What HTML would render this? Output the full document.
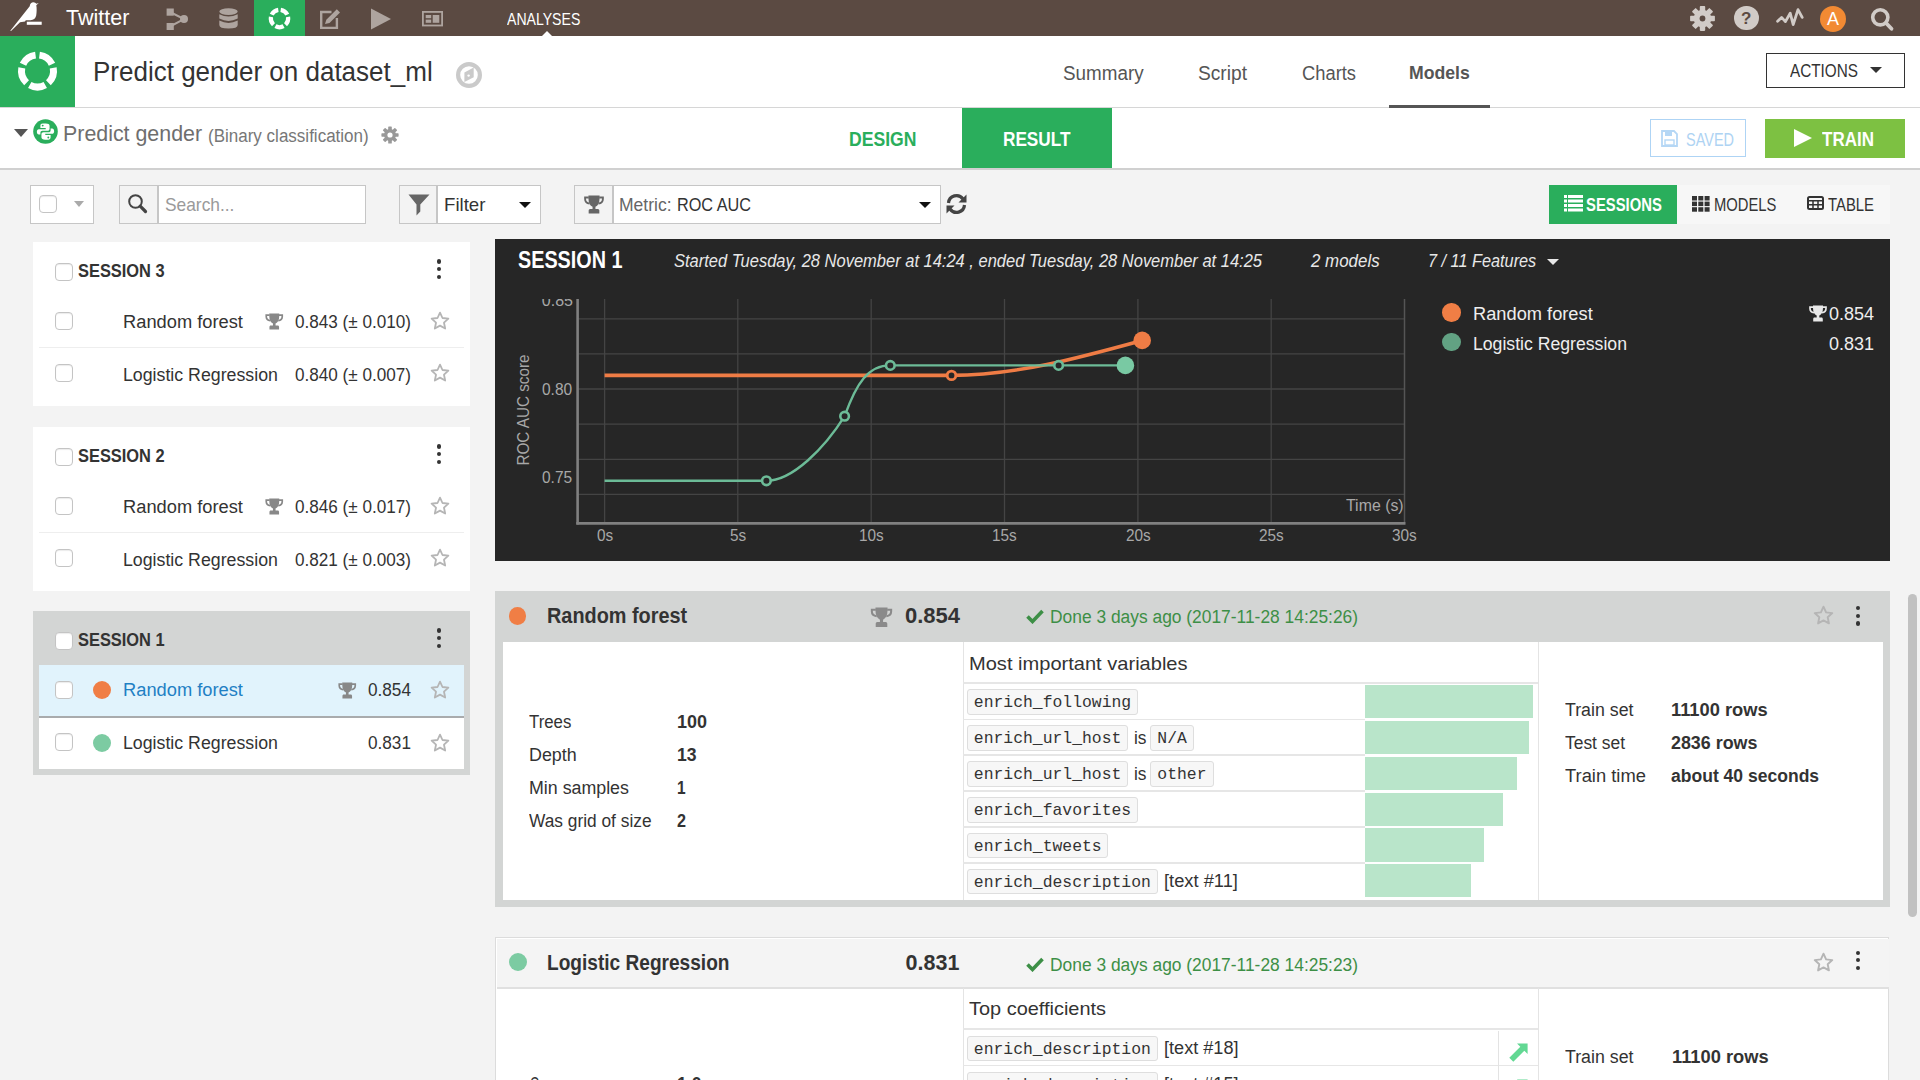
<!DOCTYPE html>
<html><head><meta charset="utf-8"><title>Predict gender</title><style>*{margin:0;padding:0;box-sizing:content-box}
html,body{width:1920px;height:1080px;overflow:hidden;background:#f3f3f3}
body{position:relative;font-family:"Liberation Sans",sans-serif}
.t{position:absolute;line-height:1;white-space:nowrap;transform-origin:0 50%}
</style></head><body>
<div style="position:absolute;left:0px;top:0px;width:1920px;height:36px;background:#5b4a42"></div>
<div style="position:absolute;left:254px;top:0px;width:51px;height:36px;background:#2aae5c"></div>
<svg style="position:absolute;left:0;top:0" width="50" height="36" viewBox="0 0 50 36">
<path d="M10.3 30.7 L29.7 6.3 C30 3.5 31.5 2.2 33.3 2.2 C34.8 2.2 35.8 3 36.3 3.8 L38.7 3.0 L36.3 5.2 C36.8 8 36.8 12 36.2 15.5 C35.5 18.5 33.5 20 30.5 20.2 L25.8 20.2 L25 21.4 L20 22.2 L11 30.9 Z" fill="#fff"/>
<rect x="26.8" y="21.7" width="14.9" height="3.1" fill="#fff"/></svg>
<div class="t" style="left:66.0px;top:7.6px;font-size:21.5px;color:#fff;">Twitter</div>
<svg style="position:absolute;left:166px;top:7.5px" width="24" height="23" viewBox="0 0 24 23">
<rect x="0.6" y="0.5" width="7.2" height="7.2" fill="#aea49f"/><rect x="0.6" y="15" width="7.2" height="7" fill="#aea49f"/>
<circle cx="18" cy="11.1" r="4" fill="#aea49f"/><path d="M4 4 L18 11.1 L4 18.5" stroke="#aea49f" stroke-width="2" fill="none"/></svg>
<svg style="position:absolute;left:218.5px;top:8px" width="19" height="21" viewBox="0 0 19 21">
<ellipse cx="9.5" cy="3.6" rx="9.2" ry="3.4" fill="#aea49f"/>
<path d="M0.3 6.2 Q9.5 11 18.7 6.2 V10.6 Q9.5 15.4 0.3 10.6Z" fill="#aea49f"/>
<path d="M0.3 12.6 Q9.5 17.4 18.7 12.6 V17 Q18.7 20.6 9.5 20.6 Q0.3 20.6 0.3 17Z" fill="#aea49f"/></svg>
<svg style="position:absolute;left:254px;top:0" width="51" height="36" viewBox="254 0 51 36"><path d="M281.00 7.81 A10.8 10.8 0 0 1 289.21 13.77 L285.43 15.61 A6.6 6.6 0 0 0 280.42 11.96Z" fill="#fff"/><path d="M290.14 16.62 A10.8 10.8 0 0 1 287.00 26.27 L284.08 23.25 A6.6 6.6 0 0 0 286.00 17.35Z" fill="#fff"/><path d="M284.57 28.04 A10.8 10.8 0 0 1 274.43 28.04 L276.40 24.33 A6.6 6.6 0 0 0 282.60 24.33Z" fill="#fff"/><path d="M272.00 26.27 A10.8 10.8 0 0 1 268.86 16.62 L273.00 17.35 A6.6 6.6 0 0 0 274.92 23.25Z" fill="#fff"/><path d="M269.79 13.77 A10.8 10.8 0 0 1 278.00 7.81 L278.58 11.96 A6.6 6.6 0 0 0 273.57 15.61Z" fill="#fff"/></svg>
<svg style="position:absolute;left:319px;top:8px" width="23" height="22" viewBox="0 0 23 22">
<path d="M12.5 4 H2.2 V19.9 H17.9 V10" stroke="#aea49f" stroke-width="2.4" fill="none"/>
<path d="M6 16 L7.3 11.8 L17.8 1.3 L21 4.5 L10.5 15 Z" fill="#aea49f"/></svg>
<svg style="position:absolute;left:370px;top:8px" width="22" height="22" viewBox="0 0 22 22">
<path d="M1 0.5 L21 11 L1 21.5Z" fill="#aea49f"/></svg>
<svg style="position:absolute;left:422px;top:11px" width="21" height="16" viewBox="0 0 21 16">
<rect x="0.9" y="0.9" width="19.2" height="13.6" stroke="#aea49f" stroke-width="1.8" fill="none"/>
<rect x="3.7" y="4" width="5.5" height="3.2" fill="#aea49f"/><rect x="3.7" y="8.6" width="5.5" height="3.2" fill="#aea49f"/><rect x="10.7" y="4" width="6.6" height="7.8" fill="#aea49f"/></svg>
<div class="t" style="left:507.0px;top:10.9px;font-size:17px;color:#fff;transform:scaleX(0.828);">ANALYSES</div>
<div style="position:absolute;left:542px;top:31px;width:0;height:0;border-left:5px solid transparent;border-right:5px solid transparent;border-bottom:5px solid #fff"></div>
<svg style="position:absolute;left:1690px;top:5.5px" width="25" height="25" viewBox="-12.5 -12.5 25 25">
<g fill="#d1cbc7"><rect x="-2.7" y="-12.4" width="5.4" height="6" rx="0.8" transform="rotate(0)"/><rect x="-2.7" y="-12.4" width="5.4" height="6" rx="0.8" transform="rotate(45)"/><rect x="-2.7" y="-12.4" width="5.4" height="6" rx="0.8" transform="rotate(90)"/><rect x="-2.7" y="-12.4" width="5.4" height="6" rx="0.8" transform="rotate(135)"/><rect x="-2.7" y="-12.4" width="5.4" height="6" rx="0.8" transform="rotate(180)"/><rect x="-2.7" y="-12.4" width="5.4" height="6" rx="0.8" transform="rotate(225)"/><rect x="-2.7" y="-12.4" width="5.4" height="6" rx="0.8" transform="rotate(270)"/><rect x="-2.7" y="-12.4" width="5.4" height="6" rx="0.8" transform="rotate(315)"/>
<circle r="8.8"/></g><circle r="2.9" fill="#5b4a42"/></svg>
<div style="position:absolute;left:1734px;top:5.7px;width:24.5px;height:24.5px;border-radius:50%;background:#d1cbc7;color:#5b4a42;font:bold 17px/25px 'Liberation Sans';text-align:center">?</div>
<svg style="position:absolute;left:1770px;top:0px" width="40" height="36" viewBox="1770 0 40 36">
<path d="M1777.6 21.3 L1781.6 17.4 L1785.4 21.6 L1790.2 13.2 L1793.2 24.6 L1798 9.6 L1802.2 17.4" stroke="#d1cbc7" stroke-width="2.8" fill="none" stroke-linejoin="round" stroke-linecap="round"/></svg>
<div style="position:absolute;left:1820px;top:5.5px;width:26px;height:26px;border-radius:50%;background:#f28a33;color:#fff;font:18px/27px 'Liberation Sans';text-align:center">A</div>
<svg style="position:absolute;left:1866px;top:3px" width="30" height="30" viewBox="1866 3 30 30">
<circle cx="1880.3" cy="17.3" r="7.6" stroke="#d1cbc7" stroke-width="3.6" fill="none"/><path d="M1886 23 L1891.5 28.8" stroke="#d1cbc7" stroke-width="3.8" stroke-linecap="round"/></svg>
<div style="position:absolute;left:0px;top:36px;width:1920px;height:71px;background:#fff"></div>
<div style="position:absolute;left:0px;top:36px;width:75px;height:71px;background:#2aae5c"></div>
<svg style="position:absolute;left:0;top:36px" width="75" height="71" viewBox="0 36 75 71"><path d="M39.88 51.65 A19.5 19.5 0 0 1 55.17 62.76 L48.83 65.72 A12.5 12.5 0 0 0 39.02 58.59Z" fill="#fff"/><path d="M56.64 67.28 A19.5 19.5 0 0 1 50.80 85.26 L46.02 80.14 A12.5 12.5 0 0 0 49.77 68.61Z" fill="#fff"/><path d="M46.95 88.06 A19.5 19.5 0 0 1 28.05 88.06 L31.44 81.93 A12.5 12.5 0 0 0 43.56 81.93Z" fill="#fff"/><path d="M24.20 85.26 A19.5 19.5 0 0 1 18.36 67.28 L25.23 68.61 A12.5 12.5 0 0 0 28.98 80.14Z" fill="#fff"/><path d="M19.83 62.76 A19.5 19.5 0 0 1 35.12 51.65 L35.98 58.59 A12.5 12.5 0 0 0 26.17 65.72Z" fill="#fff"/></svg>
<div style="position:absolute;left:0px;top:107px;width:1920px;height:1px;background:#d6d6d6"></div>
<div class="t" style="left:93.0px;top:58.8px;font-size:27px;color:#333;transform:scaleX(0.963);">Predict gender on dataset_ml</div>
<svg style="position:absolute;left:455px;top:61px" width="28" height="28" viewBox="0 0 28 28">
<circle cx="14" cy="14" r="10.9" stroke="#cacaca" stroke-width="4.2" fill="none"/><path d="M9.4 11.4 L18.7 6.6 L18.7 16.2 L9.4 21Z" fill="#cacaca"/><circle cx="13.6" cy="14.6" r="1.2" fill="#fff"/></svg>
<div class="t" style="left:1062.5px;top:63.5px;font-size:19.5px;color:#555;transform:scaleX(0.966);">Summary</div>
<div class="t" style="left:1198.3px;top:63.5px;font-size:19.5px;color:#555;transform:scaleX(0.983);">Script</div>
<div class="t" style="left:1301.7px;top:63.5px;font-size:19.5px;color:#555;transform:scaleX(0.940);">Charts</div>
<div class="t" style="left:1409.3px;top:64.3px;font-size:18.5px;color:#555;font-weight:bold;transform:scaleX(0.953);">Models</div>
<div style="position:absolute;left:1389px;top:105px;width:101px;height:3px;background:#555"></div>
<div style="position:absolute;left:1766px;top:53px;width:137px;height:33px;border:1px solid #333;background:#fff"></div>
<div class="t" style="left:1790.0px;top:62.5px;font-size:17.5px;color:#333;transform:scaleX(0.874);">ACTIONS</div>
<div style="position:absolute;left:1870px;top:67px;width:0;height:0;border-left:6px solid transparent;border-right:6px solid transparent;border-top:6px solid #333"></div>
<div style="position:absolute;left:0px;top:108px;width:1920px;height:60px;background:#fff"></div>
<div style="position:absolute;left:0px;top:168px;width:1920px;height:2px;background:#d0d0d0"></div>
<div style="position:absolute;left:14px;top:129px;width:0;height:0;border-left:7px solid transparent;border-right:7px solid transparent;border-top:8px solid #555"></div>
<svg style="position:absolute;left:33px;top:119px" width="25" height="25" viewBox="0 0 24 24">
<circle cx="12" cy="12" r="11.8" fill="#2aae5c"/>
<g><path d="M12.3 4.2 H9.4 C7.9 4.2 7.1 5 7.1 6.4 V8.6 H12.2 V9.8 H5.6 C4.4 9.8 3.7 10.9 3.7 12.3 C3.7 13.8 4.4 14.9 5.6 14.9 H7.1 V13.3 C7.1 12 7.9 11.3 9.1 11.3 H13.9 C15.1 11.3 15.9 10.5 15.9 9.3 V6.4 C15.9 5 14.6 4.2 12.3 4.2Z" fill="#fff"/>
<circle cx="9.3" cy="6.3" r="0.9" fill="#2aae5c"/></g>
<g transform="rotate(180 12 12)"><path d="M12.3 4.2 H9.4 C7.9 4.2 7.1 5 7.1 6.4 V8.6 H12.2 V9.8 H5.6 C4.4 9.8 3.7 10.9 3.7 12.3 C3.7 13.8 4.4 14.9 5.6 14.9 H7.1 V13.3 C7.1 12 7.9 11.3 9.1 11.3 H13.9 C15.1 11.3 15.9 10.5 15.9 9.3 V6.4 C15.9 5 14.6 4.2 12.3 4.2Z" fill="#fff"/>
<circle cx="9.3" cy="6.3" r="0.9" fill="#2aae5c"/></g>
</svg>
<div class="t" style="left:62.5px;top:122.7px;font-size:22.5px;color:#6e6e6e;transform:scaleX(0.950);">Predict gender</div>
<div class="t" style="left:208.3px;top:126.5px;font-size:18px;color:#777;transform:scaleX(0.945);">(Binary classification)</div>
<svg style="position:absolute;left:381px;top:126px" width="18" height="18" viewBox="-9 -9 18 18">
<g fill="#999"><rect x="-1.8" y="-8.6" width="3.6" height="4" rx=".7" transform="rotate(0)"/><rect x="-1.8" y="-8.6" width="3.6" height="4" rx=".7" transform="rotate(45)"/><rect x="-1.8" y="-8.6" width="3.6" height="4" rx=".7" transform="rotate(90)"/><rect x="-1.8" y="-8.6" width="3.6" height="4" rx=".7" transform="rotate(135)"/><rect x="-1.8" y="-8.6" width="3.6" height="4" rx=".7" transform="rotate(180)"/><rect x="-1.8" y="-8.6" width="3.6" height="4" rx=".7" transform="rotate(225)"/><rect x="-1.8" y="-8.6" width="3.6" height="4" rx=".7" transform="rotate(270)"/><rect x="-1.8" y="-8.6" width="3.6" height="4" rx=".7" transform="rotate(315)"/>
<circle r="6"/></g><circle r="2.6" fill="#fff"/></svg>
<div class="t" style="left:849.3px;top:129.5px;font-size:19.5px;color:#2aae5c;font-weight:bold;transform:scaleX(0.902);">DESIGN</div>
<div style="position:absolute;left:962px;top:108px;width:150px;height:60px;background:#2aae5c"></div>
<div class="t" style="left:1003.3px;top:129.5px;font-size:19.5px;color:#fff;font-weight:bold;transform:scaleX(0.881);">RESULT</div>
<div style="position:absolute;left:1650px;top:119px;width:94px;height:36px;border:1px solid #aed4f5;background:#fff"></div>
<svg style="position:absolute;left:1661px;top:130px" width="17" height="17" viewBox="0 0 17 17">
<path d="M1 1 H13 L16 4 V16 H1Z" stroke="#b5d7f5" stroke-width="1.8" fill="none"/><rect x="4" y="1.5" width="7" height="4.5" fill="#b5d7f5"/><rect x="4" y="10" width="9" height="5" stroke="#b5d7f5" stroke-width="1.4" fill="none"/></svg>
<div class="t" style="left:1685.7px;top:130.8px;font-size:18px;color:#aed3f3;transform:scaleX(0.804);">SAVED</div>
<div style="position:absolute;left:1765px;top:119px;width:140px;height:39px;background:#7dc142"></div>
<div style="position:absolute;left:1794px;top:129px;width:0;height:0;border-top:9.5px solid transparent;border-bottom:9.5px solid transparent;border-left:18px solid #fff"></div>
<div class="t" style="left:1821.7px;top:129.1px;font-size:20px;color:#fff;font-weight:bold;transform:scaleX(0.851);">TRAIN</div>
<div style="position:absolute;left:0px;top:170px;width:1920px;height:910px;background:#f3f3f3"></div>
<div style="position:absolute;left:30px;top:185px;width:62px;height:37px;border:1px solid #c6c6c6;background:#fff"></div>
<div style="position:absolute;left:39px;top:195px;width:16px;height:16px;border:1px solid #c4c4c4;border-radius:4px;background:#fff;box-shadow:inset 0 1px 1px rgba(0,0,0,.08)"></div>
<div style="position:absolute;left:73.5px;top:201px;width:0;height:0;border-left:5.5px solid transparent;border-right:5.5px solid transparent;border-top:6px solid #aaa"></div>
<div style="position:absolute;left:119px;top:185px;width:245px;height:37px;border:1px solid #c6c6c6;background:#fff"></div>
<div style="position:absolute;left:120px;top:186px;width:37px;height:37px;background:#f3f3f3"></div>
<div style="position:absolute;left:157px;top:186px;width:1.5px;height:37px;background:#c6c6c6"></div>
<svg style="position:absolute;left:127px;top:193px" width="22" height="22" viewBox="0 0 22 22">
<circle cx="8.5" cy="8.5" r="6.3" stroke="#444" stroke-width="2" fill="none"/><path d="M13.2 13.2 L18.5 18.5" stroke="#444" stroke-width="3.2" stroke-linecap="round"/></svg>
<div class="t" style="left:164.5px;top:194.5px;font-size:19px;color:#9a9a9a;transform:scaleX(0.913);">Search...</div>
<div style="position:absolute;left:399px;top:185px;width:140px;height:37px;border:1px solid #c6c6c6;background:#fff"></div>
<div style="position:absolute;left:400px;top:186px;width:36px;height:37px;background:#f3f3f3"></div>
<div style="position:absolute;left:436px;top:186px;width:1.5px;height:37px;background:#c6c6c6"></div>
<svg style="position:absolute;left:407.5px;top:193.5px" width="22" height="22" viewBox="0 0 22 22">
<path d="M0.5 0.5 H21.5 L12.3 10.5 V17.5 L8.5 21.5 V10.5Z" fill="#666"/></svg>
<div class="t" style="left:444.3px;top:194.9px;font-size:19px;color:#333;transform:scaleX(0.981);">Filter</div>
<div style="position:absolute;left:519px;top:202px;width:0;height:0;border-left:6.0px solid transparent;border-right:6.0px solid transparent;border-top:6px solid #111"></div>
<div style="position:absolute;left:574px;top:185px;width:365px;height:37px;border:1px solid #c6c6c6;background:#fff"></div>
<div style="position:absolute;left:575px;top:186px;width:37px;height:37px;background:#f3f3f3"></div>
<div style="position:absolute;left:612px;top:186px;width:1.5px;height:37px;background:#c6c6c6"></div>
<svg style="position:absolute;left:583.5px;top:195px" width="20" height="19" viewBox="0 0 18 17">
<path d="M4 0.5 H14 V3 C14 7 12.5 9.5 10.3 10.5 V12.5 H12.5 C13.3 12.5 13.8 13.2 13.8 14 V16.5 H4.2 V14 C4.2 13.2 4.7 12.5 5.5 12.5 H7.7 V10.5 C5.5 9.5 4 7 4 3Z" fill="#666"/>
<path d="M4.3 2.2 H1 V3.5 C1 5.5 2.5 7.3 5 7.6 M13.7 2.2 H17 V3.5 C17 5.5 15.5 7.3 13 7.6" stroke="#666" stroke-width="1.7" fill="none"/></svg>
<div class="t" style="left:619.3px;top:194.6px;font-size:19px;color:#666;transform:scaleX(0.923);">Metric: </div>
<div class="t" style="left:677.0px;top:194.6px;font-size:19px;color:#333;transform:scaleX(0.855);">ROC AUC</div>
<div style="position:absolute;left:918.5px;top:202px;width:0;height:0;border-left:6.0px solid transparent;border-right:6.0px solid transparent;border-top:6px solid #111"></div>
<svg style="position:absolute;left:945px;top:193px" width="23" height="22" viewBox="0 0 23 22">
<path d="M3.5 10 A8 8 0 0 1 18 6" stroke="#444" stroke-width="3.2" fill="none"/><path d="M21.5 1.5 V9.5 H13.5Z" fill="#444"/>
<path d="M19.5 12 A8 8 0 0 1 5 16" stroke="#444" stroke-width="3.2" fill="none"/><path d="M1.5 20.5 V12.5 H9.5Z" fill="#444"/></svg>
<div style="position:absolute;left:1549px;top:185px;width:341px;height:39px;background:#f7f7f7"></div>
<div style="position:absolute;left:1549px;top:185px;width:128px;height:39px;background:#2aae5c"></div>
<svg style="position:absolute;left:1564px;top:195px" width="19" height="17" viewBox="0 0 19 17">
<g fill="#fff"><rect x="0" y="0" width="3" height="3"/><rect x="4" y="0" width="15" height="3"/>
<rect x="0" y="4.5" width="3" height="3"/><rect x="4" y="4.5" width="15" height="3"/>
<rect x="0" y="9" width="3" height="3"/><rect x="4" y="9" width="15" height="3"/>
<rect x="0" y="13.5" width="3" height="3"/><rect x="4" y="13.5" width="15" height="3"/></g></svg>
<div class="t" style="left:1586.2px;top:195.6px;font-size:18.5px;color:#fff;font-weight:bold;transform:scaleX(0.801);">SESSIONS</div>
<svg style="position:absolute;left:1692px;top:196px" width="18" height="16" viewBox="0 0 18 16">
<g fill="#333"><rect x="0.0" y="0.0" width="5" height="4.5"/><rect x="0.0" y="5.6" width="5" height="4.5"/><rect x="0.0" y="11.2" width="5" height="4.5"/><rect x="6.3" y="0.0" width="5" height="4.5"/><rect x="6.3" y="5.6" width="5" height="4.5"/><rect x="6.3" y="11.2" width="5" height="4.5"/><rect x="12.6" y="0.0" width="5" height="4.5"/><rect x="12.6" y="5.6" width="5" height="4.5"/><rect x="12.6" y="11.2" width="5" height="4.5"/></g></svg>
<div class="t" style="left:1714.4px;top:195.6px;font-size:18.5px;color:#333;transform:scaleX(0.799);">MODELS</div>
<svg style="position:absolute;left:1807px;top:196px" width="17" height="14" viewBox="0 0 17 14">
<rect x="1" y="1" width="15" height="12" rx="1.5" stroke="#333" stroke-width="2" fill="none"/>
<path d="M1 4.8 H16 M1 8.8 H16 M6 4.5 V13 M11 4.5 V13" stroke="#333" stroke-width="1.5"/></svg>
<div class="t" style="left:1828.0px;top:195.6px;font-size:18.5px;color:#333;transform:scaleX(0.804);">TABLE</div>
<div style="position:absolute;left:33px;top:242px;width:437px;height:164px;background:#fff"></div>
<div style="position:absolute;left:55px;top:263px;width:16px;height:16px;border:1px solid #c4c4c4;border-radius:4px;background:#fff;box-shadow:inset 0 1px 1px rgba(0,0,0,.08)"></div>
<div class="t" style="left:78.0px;top:262.5px;font-size:17.5px;color:#333;font-weight:bold;transform:scaleX(0.938);">SESSION 3</div>
<div style="position:absolute;left:436.59999999999997px;top:259.4px;width:4.2px;height:4.2px;border-radius:50%;background:#333"></div>
<div style="position:absolute;left:436.59999999999997px;top:267.0px;width:4.2px;height:4.2px;border-radius:50%;background:#333"></div>
<div style="position:absolute;left:436.59999999999997px;top:274.59999999999997px;width:4.2px;height:4.2px;border-radius:50%;background:#333"></div>
<div style="position:absolute;left:55px;top:311.5px;width:16px;height:16px;border:1px solid #c4c4c4;border-radius:4px;background:#fff;box-shadow:inset 0 1px 1px rgba(0,0,0,.08)"></div>
<div class="t" style="left:123.2px;top:312.5px;font-size:18px;color:#333;transform:scaleX(1.016);">Random forest</div>
<div class="t" style="left:294.7px;top:312.5px;font-size:18px;color:#333;transform:scaleX(0.951);">0.843 (± 0.010)</div>
<svg style="position:absolute;left:265px;top:312.5px" width="18.5" height="17" viewBox="0 0 18 17">
<path d="M4 0.5 H14 V3 C14 7 12.5 9.5 10.3 10.5 V12.5 H12.5 C13.3 12.5 13.8 13.2 13.8 14 V16.5 H4.2 V14 C4.2 13.2 4.7 12.5 5.5 12.5 H7.7 V10.5 C5.5 9.5 4 7 4 3Z" fill="#888"/>
<path d="M4.3 2.2 H1 V3.5 C1 5.5 2.5 7.3 5 7.6 M13.7 2.2 H17 V3.5 C17 5.5 15.5 7.3 13 7.6" stroke="#888" stroke-width="1.7" fill="none"/></svg>
<svg style="position:absolute;left:429.5px;top:311px" width="20" height="20" viewBox="0 0 20 20"><polygon points="10.00,1.60 12.47,7.00 18.37,7.68 13.99,11.70 15.17,17.52 10.00,14.60 4.83,17.52 6.01,11.70 1.63,7.68 7.53,7.00" stroke="#b5b5b5" stroke-width="1.8" fill="none" stroke-linejoin="round"/></svg>
<div style="position:absolute;left:39px;top:347px;width:425px;height:1px;background:#eee"></div>
<div style="position:absolute;left:55px;top:363.5px;width:16px;height:16px;border:1px solid #c4c4c4;border-radius:4px;background:#fff;box-shadow:inset 0 1px 1px rgba(0,0,0,.08)"></div>
<div class="t" style="left:123.2px;top:365.5px;font-size:18px;color:#333;transform:scaleX(0.986);">Logistic Regression</div>
<div class="t" style="left:294.7px;top:365.5px;font-size:18px;color:#333;transform:scaleX(0.951);">0.840 (± 0.007)</div>
<svg style="position:absolute;left:429.5px;top:363px" width="20" height="20" viewBox="0 0 20 20"><polygon points="10.00,1.60 12.47,7.00 18.37,7.68 13.99,11.70 15.17,17.52 10.00,14.60 4.83,17.52 6.01,11.70 1.63,7.68 7.53,7.00" stroke="#b5b5b5" stroke-width="1.8" fill="none" stroke-linejoin="round"/></svg>
<div style="position:absolute;left:33px;top:427px;width:437px;height:164px;background:#fff"></div>
<div style="position:absolute;left:55px;top:448px;width:16px;height:16px;border:1px solid #c4c4c4;border-radius:4px;background:#fff;box-shadow:inset 0 1px 1px rgba(0,0,0,.08)"></div>
<div class="t" style="left:78.0px;top:447.5px;font-size:17.5px;color:#333;font-weight:bold;transform:scaleX(0.938);">SESSION 2</div>
<div style="position:absolute;left:436.59999999999997px;top:444.4px;width:4.2px;height:4.2px;border-radius:50%;background:#333"></div>
<div style="position:absolute;left:436.59999999999997px;top:452.0px;width:4.2px;height:4.2px;border-radius:50%;background:#333"></div>
<div style="position:absolute;left:436.59999999999997px;top:459.59999999999997px;width:4.2px;height:4.2px;border-radius:50%;background:#333"></div>
<div style="position:absolute;left:55px;top:496.5px;width:16px;height:16px;border:1px solid #c4c4c4;border-radius:4px;background:#fff;box-shadow:inset 0 1px 1px rgba(0,0,0,.08)"></div>
<div class="t" style="left:123.2px;top:497.5px;font-size:18px;color:#333;transform:scaleX(1.016);">Random forest</div>
<div class="t" style="left:294.7px;top:497.5px;font-size:18px;color:#333;transform:scaleX(0.951);">0.846 (± 0.017)</div>
<svg style="position:absolute;left:265px;top:497.5px" width="18.5" height="17" viewBox="0 0 18 17">
<path d="M4 0.5 H14 V3 C14 7 12.5 9.5 10.3 10.5 V12.5 H12.5 C13.3 12.5 13.8 13.2 13.8 14 V16.5 H4.2 V14 C4.2 13.2 4.7 12.5 5.5 12.5 H7.7 V10.5 C5.5 9.5 4 7 4 3Z" fill="#888"/>
<path d="M4.3 2.2 H1 V3.5 C1 5.5 2.5 7.3 5 7.6 M13.7 2.2 H17 V3.5 C17 5.5 15.5 7.3 13 7.6" stroke="#888" stroke-width="1.7" fill="none"/></svg>
<svg style="position:absolute;left:429.5px;top:496px" width="20" height="20" viewBox="0 0 20 20"><polygon points="10.00,1.60 12.47,7.00 18.37,7.68 13.99,11.70 15.17,17.52 10.00,14.60 4.83,17.52 6.01,11.70 1.63,7.68 7.53,7.00" stroke="#b5b5b5" stroke-width="1.8" fill="none" stroke-linejoin="round"/></svg>
<div style="position:absolute;left:39px;top:532px;width:425px;height:1px;background:#eee"></div>
<div style="position:absolute;left:55px;top:548.5px;width:16px;height:16px;border:1px solid #c4c4c4;border-radius:4px;background:#fff;box-shadow:inset 0 1px 1px rgba(0,0,0,.08)"></div>
<div class="t" style="left:123.2px;top:550.5px;font-size:18px;color:#333;transform:scaleX(0.986);">Logistic Regression</div>
<div class="t" style="left:294.7px;top:550.5px;font-size:18px;color:#333;transform:scaleX(0.951);">0.821 (± 0.003)</div>
<svg style="position:absolute;left:429.5px;top:548px" width="20" height="20" viewBox="0 0 20 20"><polygon points="10.00,1.60 12.47,7.00 18.37,7.68 13.99,11.70 15.17,17.52 10.00,14.60 4.83,17.52 6.01,11.70 1.63,7.68 7.53,7.00" stroke="#b5b5b5" stroke-width="1.8" fill="none" stroke-linejoin="round"/></svg>
<div style="position:absolute;left:33px;top:611px;width:437px;height:164px;background:#d3d5d4"></div>
<div style="position:absolute;left:55px;top:632px;width:16px;height:16px;border:1px solid #c4c4c4;border-radius:4px;background:#fff;box-shadow:inset 0 1px 1px rgba(0,0,0,.08)"></div>
<div class="t" style="left:78.0px;top:631.5px;font-size:17.5px;color:#333;font-weight:bold;transform:scaleX(0.938);">SESSION 1</div>
<div style="position:absolute;left:436.59999999999997px;top:628.4px;width:4.2px;height:4.2px;border-radius:50%;background:#333"></div>
<div style="position:absolute;left:436.59999999999997px;top:636.0px;width:4.2px;height:4.2px;border-radius:50%;background:#333"></div>
<div style="position:absolute;left:436.59999999999997px;top:643.6px;width:4.2px;height:4.2px;border-radius:50%;background:#333"></div>
<div style="position:absolute;left:39px;top:665px;width:425px;height:51px;background:#e1f3fc"></div>
<div style="position:absolute;left:39px;top:716px;width:425px;height:2px;background:#a9abad"></div>
<div style="position:absolute;left:39px;top:718px;width:425px;height:51px;background:#fff"></div>
<div style="position:absolute;left:55px;top:680.5px;width:16px;height:16px;border:1px solid #c4c4c4;border-radius:4px;background:#fff;box-shadow:inset 0 1px 1px rgba(0,0,0,.08)"></div>
<div style="position:absolute;left:93px;top:681.0px;width:18px;height:18px;border-radius:50%;background:#f07e45"></div>
<div class="t" style="left:123.2px;top:681.3px;font-size:18px;color:#1f80c4;transform:scaleX(1.016);">Random forest</div>
<div class="t" style="left:367.7px;top:681.3px;font-size:18px;color:#333;transform:scaleX(0.954);">0.854</div>
<svg style="position:absolute;left:338px;top:681.5px" width="18.5" height="17" viewBox="0 0 18 17">
<path d="M4 0.5 H14 V3 C14 7 12.5 9.5 10.3 10.5 V12.5 H12.5 C13.3 12.5 13.8 13.2 13.8 14 V16.5 H4.2 V14 C4.2 13.2 4.7 12.5 5.5 12.5 H7.7 V10.5 C5.5 9.5 4 7 4 3Z" fill="#888"/>
<path d="M4.3 2.2 H1 V3.5 C1 5.5 2.5 7.3 5 7.6 M13.7 2.2 H17 V3.5 C17 5.5 15.5 7.3 13 7.6" stroke="#888" stroke-width="1.7" fill="none"/></svg>
<svg style="position:absolute;left:429.5px;top:680.0px" width="20" height="20" viewBox="0 0 20 20"><polygon points="10.00,1.60 12.47,7.00 18.37,7.68 13.99,11.70 15.17,17.52 10.00,14.60 4.83,17.52 6.01,11.70 1.63,7.68 7.53,7.00" stroke="#b5b5b5" stroke-width="1.8" fill="none" stroke-linejoin="round"/></svg>
<div style="position:absolute;left:55px;top:733.0px;width:16px;height:16px;border:1px solid #c4c4c4;border-radius:4px;background:#fff;box-shadow:inset 0 1px 1px rgba(0,0,0,.08)"></div>
<div style="position:absolute;left:93px;top:733.5px;width:18px;height:18px;border-radius:50%;background:#7ccba2"></div>
<div class="t" style="left:123.2px;top:734.0px;font-size:18px;color:#333;transform:scaleX(0.986);">Logistic Regression</div>
<div class="t" style="left:367.7px;top:734.0px;font-size:18px;color:#333;transform:scaleX(0.954);">0.831</div>
<svg style="position:absolute;left:429.5px;top:732.5px" width="20" height="20" viewBox="0 0 20 20"><polygon points="10.00,1.60 12.47,7.00 18.37,7.68 13.99,11.70 15.17,17.52 10.00,14.60 4.83,17.52 6.01,11.70 1.63,7.68 7.53,7.00" stroke="#b5b5b5" stroke-width="1.8" fill="none" stroke-linejoin="round"/></svg>
<svg style="position:absolute;left:495px;top:239px" width="1395" height="322" viewBox="495 239 1395 322"><rect x="495" y="239" width="1395" height="322" fill="#262626"/><line x1="578" y1="318.9" x2="1405" y2="318.9" stroke="#444" stroke-width="1.3"/><line x1="578" y1="353.9" x2="1405" y2="353.9" stroke="#444" stroke-width="1.3"/><line x1="578" y1="389.0" x2="1405" y2="389.0" stroke="#444" stroke-width="1.3"/><line x1="578" y1="424.2" x2="1405" y2="424.2" stroke="#444" stroke-width="1.3"/><line x1="578" y1="459.4" x2="1405" y2="459.4" stroke="#444" stroke-width="1.3"/><line x1="578" y1="494.4" x2="1405" y2="494.4" stroke="#444" stroke-width="1.3"/><line x1="604.6" y1="299" x2="604.6" y2="522" stroke="#444" stroke-width="1.3"/><line x1="737.8" y1="299" x2="737.8" y2="522" stroke="#444" stroke-width="1.3"/><line x1="871.2" y1="299" x2="871.2" y2="522" stroke="#444" stroke-width="1.3"/><line x1="1004.5" y1="299" x2="1004.5" y2="522" stroke="#444" stroke-width="1.3"/><line x1="1137.9" y1="299" x2="1137.9" y2="522" stroke="#444" stroke-width="1.3"/><line x1="1271.2" y1="299" x2="1271.2" y2="522" stroke="#444" stroke-width="1.3"/><line x1="1404.5" y1="299" x2="1404.5" y2="522" stroke="#555" stroke-width="1.5"/><line x1="577.6" y1="299" x2="577.6" y2="524.5" stroke="#808080" stroke-width="2.6"/><line x1="576.3" y1="523.3" x2="1405.5" y2="523.3" stroke="#808080" stroke-width="2.8"/><path d="M604.60 375.40 C720.23 375.40 835.87 375.40 951.50 375.40 C1015.07 375.40 1078.63 357.90 1142.20 340.40" stroke="#ef7c45" stroke-width="3.6" fill="none"/><path d="M604.6 480.8 L766.4 480.8 C792.4 480.8 824.6 448.2 844.6 416.2 C856.6 382.6 868.3 365.4 890.3 365.4 L1125.4 365.4" stroke="#6cbb97" stroke-width="2.4" fill="none"/><circle cx="766.4" cy="480.8" r="4.3" stroke="#6cbb97" stroke-width="2.6" fill="#262626"/><circle cx="844.6" cy="416.2" r="4.3" stroke="#6cbb97" stroke-width="2.6" fill="#262626"/><circle cx="890.3" cy="365.4" r="4.3" stroke="#6cbb97" stroke-width="2.6" fill="#262626"/><circle cx="1058.6" cy="365.4" r="4.3" stroke="#6cbb97" stroke-width="2.6" fill="#262626"/><circle cx="951.5" cy="375.4" r="4.3" stroke="#ef7c45" stroke-width="2.8" fill="#262626"/><circle cx="1125.4" cy="365.4" r="8.8" fill="#79c9a3"/><circle cx="1142.2" cy="340.4" r="8.8" fill="#ef7c45"/></svg>
<div class="t" style="left:517.8px;top:248.5px;font-size:23px;color:#fff;font-weight:bold;transform:scaleX(0.860);">SESSION 1</div>
<div class="t" style="left:674.2px;top:252.7px;font-size:17.5px;color:#e8e8e8;font-style:italic;transform:scaleX(0.942);">Started Tuesday, 28 November at 14:24 , ended Tuesday, 28 November at 14:25</div>
<div class="t" style="left:1310.6px;top:252.7px;font-size:17.5px;color:#e8e8e8;font-style:italic;transform:scaleX(0.966);">2 models</div>
<div class="t" style="left:1428.0px;top:252.7px;font-size:17.5px;color:#e8e8e8;font-style:italic;transform:scaleX(0.930);">7 / 11 Features</div>
<div style="position:absolute;left:1546.8px;top:259px;width:0;height:0;border-left:6.2px solid transparent;border-right:6.2px solid transparent;border-top:6.6px solid #e8e8e8"></div>
<div style="position:absolute;left:495px;top:299px;width:90px;height:20px;overflow:hidden"><div class="t" style="left:46.8px;top:-6.5px;font-size:16px;color:#a8a8a8">0.85</div></div>
<div class="t" style="left:541.8px;top:381.5px;font-size:16px;color:#a8a8a8;transform:scaleX(0.969);">0.80</div>
<div class="t" style="left:541.8px;top:469.8px;font-size:16px;color:#a8a8a8;transform:scaleX(0.969);">0.75</div>
<div class="t" style="left:596.5px;top:527.0px;font-size:16.5px;color:#a8a8a8;transform:scaleX(0.930);">0s</div>
<div class="t" style="left:729.7px;top:527.0px;font-size:16.5px;color:#a8a8a8;transform:scaleX(0.930);">5s</div>
<div class="t" style="left:858.8px;top:527.0px;font-size:16.5px;color:#a8a8a8;transform:scaleX(0.930);">10s</div>
<div class="t" style="left:992.1px;top:527.0px;font-size:16.5px;color:#a8a8a8;transform:scaleX(0.930);">15s</div>
<div class="t" style="left:1125.5px;top:527.0px;font-size:16.5px;color:#a8a8a8;transform:scaleX(0.930);">20s</div>
<div class="t" style="left:1258.8px;top:527.0px;font-size:16.5px;color:#a8a8a8;transform:scaleX(0.930);">25s</div>
<div class="t" style="left:1392.1px;top:527.0px;font-size:16.5px;color:#a8a8a8;transform:scaleX(0.930);">30s</div>
<div class="t" style="left:1345.9px;top:497.0px;font-size:16.5px;color:#a8a8a8;transform:scaleX(0.963);">Time (s)</div>
<div class="t" style="left:522.5px;top:410px;font-size:16.5px;color:#a8a8a8;transform:translate(-50%,-50%) rotate(-90deg) scaleX(0.925);transform-origin:50% 50%">ROC AUC score</div>
<div style="position:absolute;left:1442.3px;top:303.2px;width:18.4px;height:18.4px;border-radius:50%;background:#f07e45"></div>
<div style="position:absolute;left:1442.3px;top:333.0px;width:18.4px;height:18.4px;border-radius:50%;background:#62a283"></div>
<div class="t" style="left:1472.9px;top:304.8px;font-size:18px;color:#eee;transform:scaleX(1.014);">Random forest</div>
<div class="t" style="left:1472.9px;top:334.5px;font-size:18px;color:#eee;transform:scaleX(0.980);">Logistic Regression</div>
<svg style="position:absolute;left:1809px;top:305px" width="18" height="17" viewBox="0 0 18 17">
<path d="M4 0.5 H14 V3 C14 7 12.5 9.5 10.3 10.5 V12.5 H12.5 C13.3 12.5 13.8 13.2 13.8 14 V16.5 H4.2 V14 C4.2 13.2 4.7 12.5 5.5 12.5 H7.7 V10.5 C5.5 9.5 4 7 4 3Z" fill="#e8e8e8"/>
<path d="M4.3 2.2 H1 V3.5 C1 5.5 2.5 7.3 5 7.6 M13.7 2.2 H17 V3.5 C17 5.5 15.5 7.3 13 7.6" stroke="#e8e8e8" stroke-width="1.7" fill="none"/></svg>
<div class="t" style="left:1829.0px;top:304.8px;font-size:18px;color:#eee;">0.854</div>
<div class="t" style="left:1829.0px;top:334.5px;font-size:18px;color:#eee;">0.831</div>
<div style="position:absolute;left:495px;top:591px;width:1395px;height:316px;background:#d3d5d4"></div>
<div style="position:absolute;left:503px;top:642px;width:1380px;height:258px;background:#fff"></div>
<div style="position:absolute;left:508.7px;top:607.2px;width:17.6px;height:17.6px;border-radius:50%;background:#f07e45"></div>
<div class="t" style="left:546.8px;top:605.6px;font-size:21.5px;color:#333;font-weight:bold;transform:scaleX(0.924);">Random forest</div>
<svg style="position:absolute;left:870px;top:606.5px" width="23" height="20.5" viewBox="0 0 18 17">
<path d="M4 0.5 H14 V3 C14 7 12.5 9.5 10.3 10.5 V12.5 H12.5 C13.3 12.5 13.8 13.2 13.8 14 V16.5 H4.2 V14 C4.2 13.2 4.7 12.5 5.5 12.5 H7.7 V10.5 C5.5 9.5 4 7 4 3Z" fill="#8a8a8a"/>
<path d="M4.3 2.2 H1 V3.5 C1 5.5 2.5 7.3 5 7.6 M13.7 2.2 H17 V3.5 C17 5.5 15.5 7.3 13 7.6" stroke="#8a8a8a" stroke-width="1.7" fill="none"/></svg>
<div class="t" style="left:905.0px;top:605.6px;font-size:21.5px;color:#333;font-weight:bold;transform:scaleX(1.023);">0.854</div>
<svg style="position:absolute;left:1026px;top:609px" width="18" height="15" viewBox="0 0 18 15"><path d="M1.5 7.5 L6.5 12.5 L16.5 2" stroke="#3d8f46" stroke-width="3.6" fill="none" stroke-linejoin="miter"/></svg>
<div class="t" style="left:1050.0px;top:607.7px;font-size:18px;color:#3d8f46;transform:scaleX(0.966);">Done 3 days ago (2017-11-28 14:25:26)</div>
<svg style="position:absolute;left:1813px;top:604.5px" width="21" height="21" viewBox="0 0 20 20"><polygon points="10.00,1.60 12.47,7.00 18.37,7.68 13.99,11.70 15.17,17.52 10.00,14.60 4.83,17.52 6.01,11.70 1.63,7.68 7.53,7.00" stroke="#b5b5b5" stroke-width="1.8" fill="none" stroke-linejoin="round"/></svg>
<div style="position:absolute;left:1856.2px;top:606.1999999999999px;width:4.2px;height:4.2px;border-radius:50%;background:#333"></div>
<div style="position:absolute;left:1856.2px;top:613.8px;width:4.2px;height:4.2px;border-radius:50%;background:#333"></div>
<div style="position:absolute;left:1856.2px;top:621.4px;width:4.2px;height:4.2px;border-radius:50%;background:#333"></div>
<div class="t" style="left:528.8px;top:713.0px;font-size:18px;color:#333;transform:scaleX(0.933);">Trees</div>
<div class="t" style="left:677.0px;top:713.0px;font-size:18px;color:#333;font-weight:bold;">100</div>
<div class="t" style="left:528.8px;top:746.0px;font-size:18px;color:#333;transform:scaleX(0.993);">Depth</div>
<div class="t" style="left:677.0px;top:746.0px;font-size:18px;color:#333;font-weight:bold;transform:scaleX(0.978);">13</div>
<div class="t" style="left:528.8px;top:779.0px;font-size:18px;color:#333;transform:scaleX(0.989);">Min samples</div>
<div class="t" style="left:677.0px;top:779.0px;font-size:18px;color:#333;font-weight:bold;transform:scaleX(0.859);">1</div>
<div class="t" style="left:528.8px;top:812.0px;font-size:18px;color:#333;transform:scaleX(0.962);">Was grid of size</div>
<div class="t" style="left:677.0px;top:812.0px;font-size:18px;color:#333;font-weight:bold;transform:scaleX(0.899);">2</div>
<div style="position:absolute;left:963px;top:642px;width:1px;height:258px;background:#e4e4e4"></div>
<div style="position:absolute;left:1537.5px;top:642px;width:1px;height:258px;background:#e4e4e4"></div>
<div class="t" style="left:969.0px;top:653.8px;font-size:19px;color:#333;transform:scaleX(1.056);">Most important variables</div>
<div style="position:absolute;left:963px;top:682.3px;width:575px;height:2px;background:#e6e6e6"></div>
<div style="position:absolute;left:963px;top:718.5px;width:401.6px;height:1.7px;background:#e6e6e6"></div>
<div style="position:absolute;left:1364.6px;top:684.8px;width:168.4000000000001px;height:33.2px;background:#b9e5ca"></div>
<div style="position:absolute;left:966.5px;top:689.3px;width:169.9000000000001px;height:23.5px;border:1px solid #dedede;border-radius:3px;background:#f7f7f7"></div>
<div class="t" style="left:973.8px;top:695.4px;font-size:16.4px;color:#333;font-family:'Liberation Mono', monospace;">enrich_following</div>
<div style="position:absolute;left:963px;top:754.4px;width:401.6px;height:1.7px;background:#e6e6e6"></div>
<div style="position:absolute;left:1364.6px;top:720.6999999999999px;width:164.30000000000018px;height:33.2px;background:#b9e5ca"></div>
<div style="position:absolute;left:966.5px;top:725.1999999999999px;width:159.29999999999995px;height:23.5px;border:1px solid #dedede;border-radius:3px;background:#f7f7f7"></div>
<div class="t" style="left:973.8px;top:731.3px;font-size:16.4px;color:#333;font-family:'Liberation Mono', monospace;">enrich_url_host</div>
<div class="t" style="left:1133.5px;top:728.7px;font-size:18px;color:#333;transform:scaleX(0.962);">is</div>
<div style="position:absolute;left:1150px;top:725.1999999999999px;width:42px;height:23.5px;border:1px solid #dedede;border-radius:3px;background:#f7f7f7"></div>
<div class="t" style="left:1157.3px;top:731.3px;font-size:16.4px;color:#333;font-family:'Liberation Mono', monospace;">N/A</div>
<div style="position:absolute;left:963px;top:790.3px;width:401.6px;height:1.7px;background:#e6e6e6"></div>
<div style="position:absolute;left:1364.6px;top:756.5999999999999px;width:152.20000000000005px;height:33.2px;background:#b9e5ca"></div>
<div style="position:absolute;left:966.5px;top:761.0999999999999px;width:159.29999999999995px;height:23.5px;border:1px solid #dedede;border-radius:3px;background:#f7f7f7"></div>
<div class="t" style="left:973.8px;top:767.2px;font-size:16.4px;color:#333;font-family:'Liberation Mono', monospace;">enrich_url_host</div>
<div class="t" style="left:1133.5px;top:764.6px;font-size:18px;color:#333;transform:scaleX(0.962);">is</div>
<div style="position:absolute;left:1150px;top:761.0999999999999px;width:61.700000000000045px;height:23.5px;border:1px solid #dedede;border-radius:3px;background:#f7f7f7"></div>
<div class="t" style="left:1157.3px;top:767.2px;font-size:16.4px;color:#333;font-family:'Liberation Mono', monospace;">other</div>
<div style="position:absolute;left:963px;top:826.2px;width:401.6px;height:1.7px;background:#e6e6e6"></div>
<div style="position:absolute;left:1364.6px;top:792.5px;width:138.5px;height:33.2px;background:#b9e5ca"></div>
<div style="position:absolute;left:966.5px;top:797.0px;width:169.9000000000001px;height:23.5px;border:1px solid #dedede;border-radius:3px;background:#f7f7f7"></div>
<div class="t" style="left:973.8px;top:803.1px;font-size:16.4px;color:#333;font-family:'Liberation Mono', monospace;">enrich_favorites</div>
<div style="position:absolute;left:963px;top:862.1px;width:401.6px;height:1.7px;background:#e6e6e6"></div>
<div style="position:absolute;left:1364.6px;top:828.4px;width:119.20000000000005px;height:33.2px;background:#b9e5ca"></div>
<div style="position:absolute;left:966.5px;top:832.9px;width:139.5px;height:23.5px;border:1px solid #dedede;border-radius:3px;background:#f7f7f7"></div>
<div class="t" style="left:973.8px;top:839.0px;font-size:16.4px;color:#333;font-family:'Liberation Mono', monospace;">enrich_tweets</div>
<div style="position:absolute;left:1364.6px;top:864.3px;width:106.70000000000005px;height:33.2px;background:#b9e5ca"></div>
<div style="position:absolute;left:966.5px;top:868.8px;width:189.5px;height:23.5px;border:1px solid #dedede;border-radius:3px;background:#f7f7f7"></div>
<div class="t" style="left:973.8px;top:874.9px;font-size:16.4px;color:#333;font-family:'Liberation Mono', monospace;">enrich_description</div>
<div class="t" style="left:1163.5px;top:872.3px;font-size:18px;color:#333;transform:scaleX(1.017);">[text #11]</div>
<div class="t" style="left:1565.2px;top:700.8px;font-size:18px;color:#333;transform:scaleX(0.987);">Train set</div>
<div class="t" style="left:1671.3px;top:700.8px;font-size:18px;color:#333;font-weight:bold;transform:scaleX(1.017);">11100 rows</div>
<div class="t" style="left:1565.2px;top:733.7px;font-size:18px;color:#333;transform:scaleX(0.967);">Test set</div>
<div class="t" style="left:1671.3px;top:733.7px;font-size:18px;color:#333;font-weight:bold;transform:scaleX(0.992);">2836 rows</div>
<div class="t" style="left:1565.2px;top:766.6px;font-size:18px;color:#333;transform:scaleX(1.020);">Train time</div>
<div class="t" style="left:1671.3px;top:766.6px;font-size:18px;color:#333;font-weight:bold;transform:scaleX(0.974);">about 40 seconds</div>
<div style="position:absolute;left:495px;top:937px;width:1392px;height:160px;border:1.5px solid #dcdcdc;background:#fff"></div>
<div style="position:absolute;left:496.5px;top:938.5px;width:1392px;height:49px;background:#f4f4f4"></div>
<div style="position:absolute;left:496.5px;top:987px;width:1392px;height:1.5px;background:#e0e0e0"></div>
<div style="position:absolute;left:508.6px;top:953.3px;width:18px;height:18px;border-radius:50%;background:#7ccba2"></div>
<div class="t" style="left:546.5px;top:952.6px;font-size:21.5px;color:#333;font-weight:bold;transform:scaleX(0.888);">Logistic Regression</div>
<div class="t" style="left:905.6px;top:952.6px;font-size:21.5px;color:#333;font-weight:bold;">0.831</div>
<svg style="position:absolute;left:1026px;top:957px" width="18" height="15" viewBox="0 0 18 15"><path d="M1.5 7.5 L6.5 12.5 L16.5 2" stroke="#3d8f46" stroke-width="3.6" fill="none" stroke-linejoin="miter"/></svg>
<div class="t" style="left:1050.0px;top:955.6px;font-size:18px;color:#3d8f46;transform:scaleX(0.966);">Done 3 days ago (2017-11-28 14:25:23)</div>
<svg style="position:absolute;left:1813px;top:951.5px" width="21" height="21" viewBox="0 0 20 20"><polygon points="10.00,1.60 12.47,7.00 18.37,7.68 13.99,11.70 15.17,17.52 10.00,14.60 4.83,17.52 6.01,11.70 1.63,7.68 7.53,7.00" stroke="#b5b5b5" stroke-width="1.8" fill="none" stroke-linejoin="round"/></svg>
<div style="position:absolute;left:1855.6000000000001px;top:950.6999999999999px;width:4.2px;height:4.2px;border-radius:50%;background:#333"></div>
<div style="position:absolute;left:1855.6000000000001px;top:958.3px;width:4.2px;height:4.2px;border-radius:50%;background:#333"></div>
<div style="position:absolute;left:1855.6000000000001px;top:965.9px;width:4.2px;height:4.2px;border-radius:50%;background:#333"></div>
<div style="position:absolute;left:963px;top:988px;width:1px;height:100px;background:#e4e4e4"></div>
<div style="position:absolute;left:1537.5px;top:988px;width:1px;height:100px;background:#e4e4e4"></div>
<div class="t" style="left:969.0px;top:999.2px;font-size:19px;color:#333;transform:scaleX(1.049);">Top coefficients</div>
<div style="position:absolute;left:963px;top:1028px;width:575px;height:2px;background:#e6e6e6"></div>
<div style="position:absolute;left:966.5px;top:1035.6px;width:189.5px;height:23.5px;border:1px solid #dedede;border-radius:3px;background:#f7f7f7"></div>
<div class="t" style="left:973.8px;top:1041.7px;font-size:16.4px;color:#333;font-family:'Liberation Mono', monospace;">enrich_description</div>
<div class="t" style="left:1163.5px;top:1039.1px;font-size:18px;color:#333;transform:scaleX(1.006);">[text #18]</div>
<div style="position:absolute;left:963px;top:1064.8px;width:575px;height:1.7px;background:#e6e6e6"></div>
<div style="position:absolute;left:1497.5px;top:1030.6px;width:1.6px;height:36px;background:#e3e3e3"></div>
<svg style="position:absolute;left:1500px;top:1040.0px" width="32" height="26" viewBox="1500 1040 32 26"><path d="M1517 1043.6 L1527.6 1043.6 L1527.6 1054 L1524.3 1050.8 L1513.3 1061.8 L1509.3 1057.8 L1520.3 1046.8Z" fill="#62d893"/></svg>
<div style="position:absolute;left:966.5px;top:1071.5px;width:189.5px;height:23.5px;border:1px solid #dedede;border-radius:3px;background:#f7f7f7"></div>
<div class="t" style="left:973.8px;top:1077.6px;font-size:16.4px;color:#333;font-family:'Liberation Mono', monospace;">enrich_description</div>
<div class="t" style="left:1163.5px;top:1075.0px;font-size:18px;color:#333;transform:scaleX(1.006);">[text #15]</div>
<div style="position:absolute;left:963px;top:1100.7px;width:575px;height:1.7px;background:#e6e6e6"></div>
<div style="position:absolute;left:1497.5px;top:1066.5px;width:1.6px;height:36px;background:#e3e3e3"></div>
<svg style="position:absolute;left:1500px;top:1075.9px" width="32" height="26" viewBox="1500 1040 32 26"><path d="M1517 1043.6 L1527.6 1043.6 L1527.6 1054 L1524.3 1050.8 L1513.3 1061.8 L1509.3 1057.8 L1520.3 1046.8Z" fill="#62d893"/></svg>
<div class="t" style="left:1565.4px;top:1047.6px;font-size:18px;color:#333;transform:scaleX(0.987);">Train set</div>
<div class="t" style="left:1671.8px;top:1047.6px;font-size:18px;color:#333;font-weight:bold;transform:scaleX(1.017);">11100 rows</div>
<div class="t" style="left:530.0px;top:1074.8px;font-size:18px;color:#333;transform:scaleX(0.692);">C</div>
<div class="t" style="left:677.0px;top:1074.8px;font-size:18px;color:#333;font-weight:bold;transform:scaleX(0.979);">1.0</div>
<div style="position:absolute;left:1908px;top:594px;width:8.5px;height:323px;border-radius:5px;background:#c1c1c1"></div>
</body></html>
